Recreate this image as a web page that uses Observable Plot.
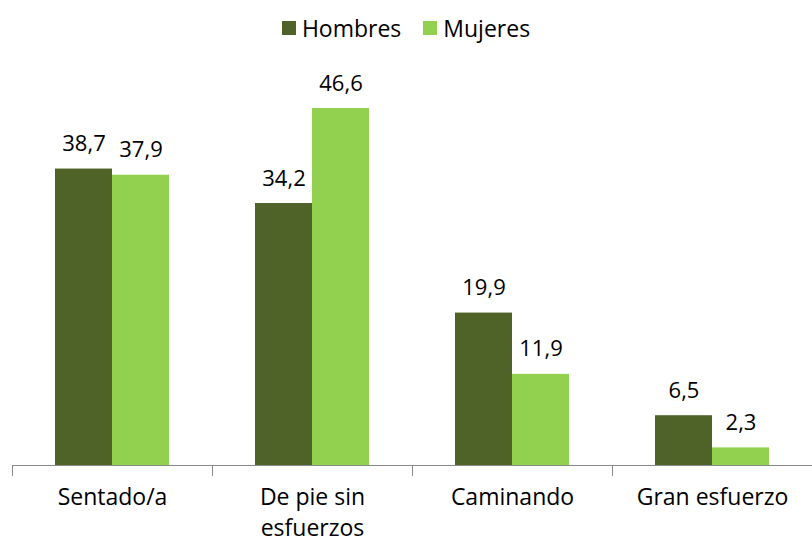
<!DOCTYPE html>
<html><head><meta charset="utf-8">
<script src="https://cdn.jsdelivr.net/npm/d3@7"></script>
<script src="https://cdn.jsdelivr.net/npm/@observablehq/plot@0.6"></script>
<style>
body{margin:0;background:#fff;font-family:"Open Sans",sans-serif;}
#legend{height:50px;display:flex;justify-content:center;align-items:flex-end;gap:0;font-size:23px;color:#000;box-sizing:border-box;}
.item{display:flex;align-items:center;margin:0 11px;line-height:30px;margin-bottom:7px}
.sw{width:14px;height:14px;margin-right:6px;display:inline-block}
</style></head>
<body>
<div id="legend"></div>
<div id="chart"></div>
<script>
const categories = ["Sentado/a", "De pie sin\nesfuerzos", "Caminando", "Gran esfuerzo"];
const series = ["Hombres", "Mujeres"];
const hombres = [38.7, 34.2, 19.9, 6.5];
const mujeres = [37.9, 46.6, 11.9, 2.3];
const colors = ["#4f6228", "#92d050"];

const data = [];
categories.forEach((c, i) => {
  data.push({cat: c, sex: "Hombres", value: hombres[i]});
  data.push({cat: c, sex: "Mujeres", value: mujeres[i]});
});

const leg = document.getElementById("legend");
series.forEach((s, i) => {
  const d = document.createElement("div");
  d.className = "item";
  d.innerHTML = `<span class="sw" style="background:${colors[i]}"></span>${s}`;
  leg.appendChild(d);
});

const fmt = v => v.toFixed(1).replace(".", ",");
const W = 812, ML = 12, MR = 0;
const half = (W - ML - MR) / categories.length / 2;

const chart = Plot.plot({
  width: W,
  height: 493,
  marginLeft: ML,
  marginRight: MR,
  marginTop: 32,
  marginBottom: 78,
  style: {fontFamily: "Open Sans, sans-serif", fontSize: "22px", color: "#000", background: "#fff"},
  fx: {domain: categories, padding: 0, label: null},
  x: {domain: series, paddingInner: 0, paddingOuter: 0.75, axis: null},
  y: {domain: [0, 50], axis: null},
  color: {domain: series, range: colors},
  marks: [
    Plot.barY(data, {fx: "cat", x: "sex", y: "value", fill: "sex"}),
    Plot.text(data, {fx: "cat", x: "sex", y: "value", text: d => fmt(d.value), dy: -25, fontSize: 22, fill: "#000"}),
    Plot.ruleY([0], {stroke: "#898989", strokeWidth: 1.2}),
    Plot.axisFx({anchor: "bottom", tickSize: 11, tickFormat: null, dx: -half, stroke: "#898989", label: null}),
    Plot.axisFx({anchor: "bottom", tickSize: 0, tickPadding: 18, fontSize: 23, lineHeight: 1.33, label: null, fill: "#000"})
  ]
});
document.getElementById("chart").appendChild(chart);
</script>
</body></html>
